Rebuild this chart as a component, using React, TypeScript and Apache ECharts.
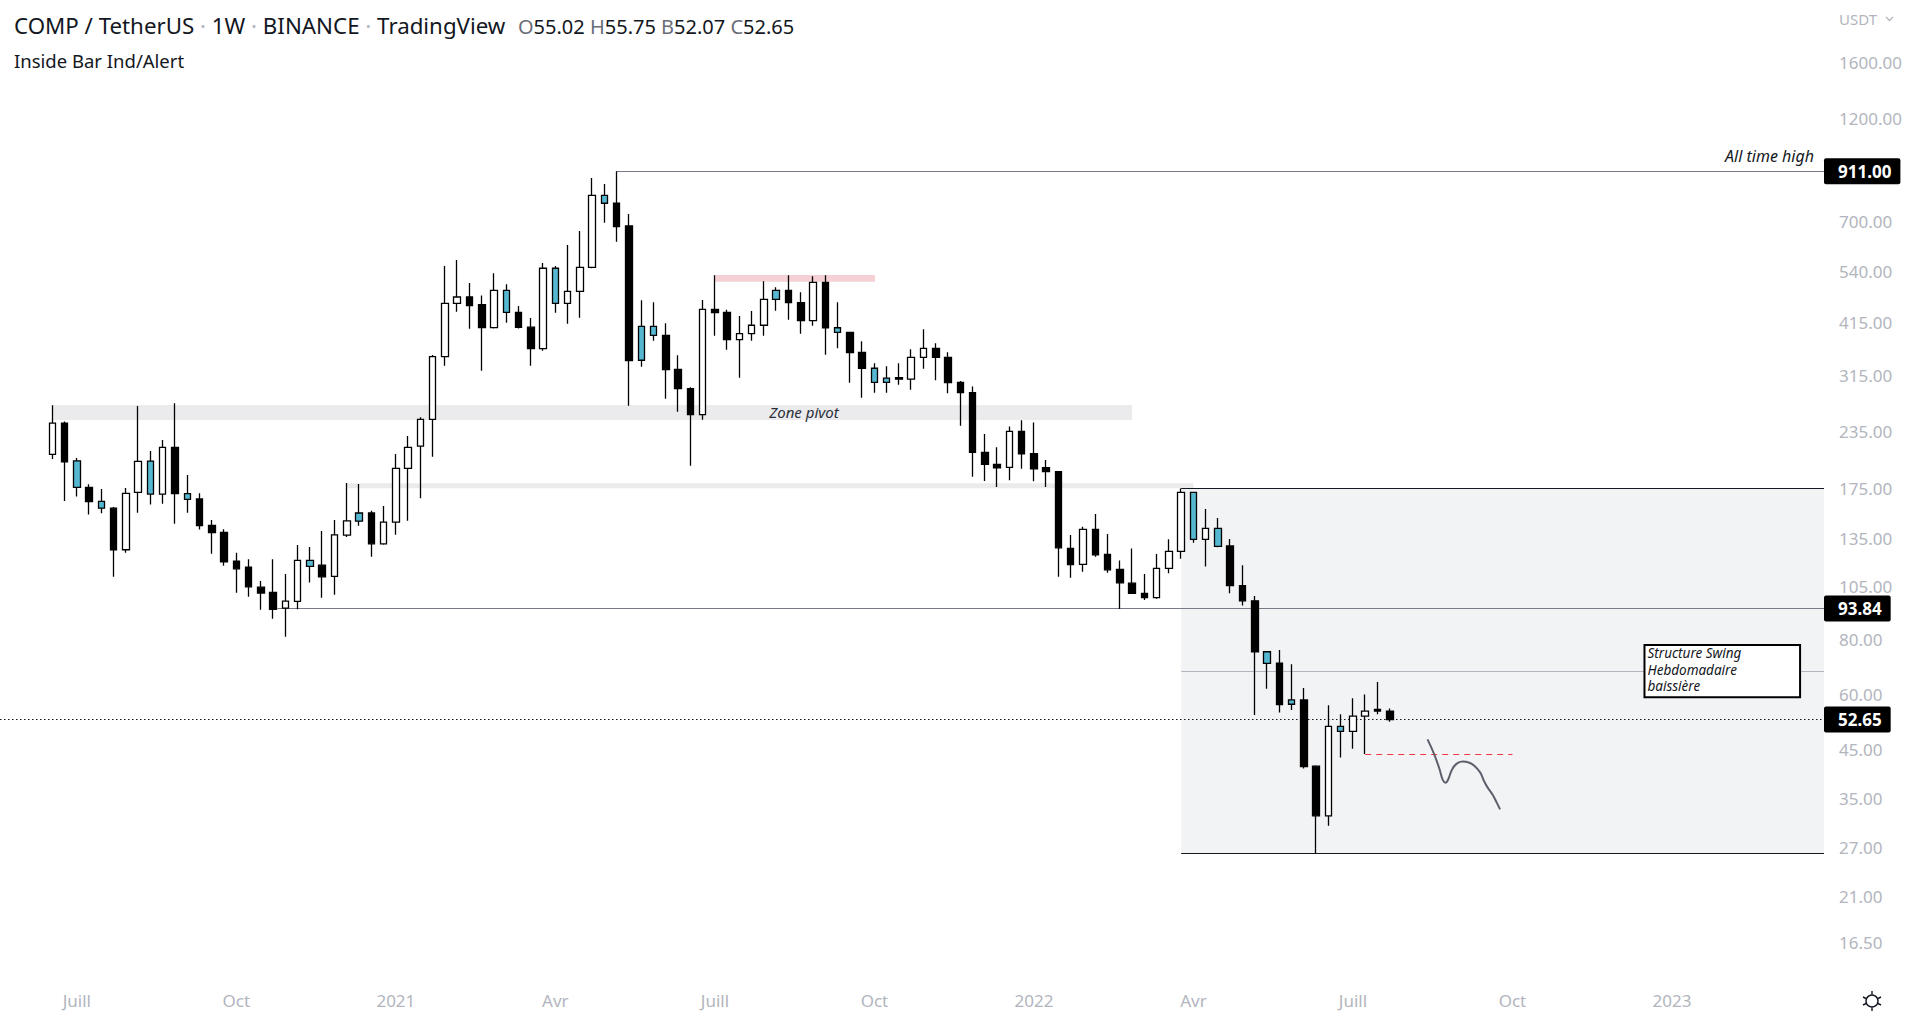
import React, { useEffect, useRef } from "react";
import * as echarts from "echarts";

// ---------- DATA ----------
// weekly candles, index 0 = week of 2020-06-22 (Binance COMP/USDT, 1W)
const opens = [
  209, 246, 202, 176, 163.7, 158, 127.3, 171.6, 201.9, 170,
  216.8, 170.4, 165.8, 144.5, 139.4, 120, 116.3, 104.8, 102, 94,
  97.3, 120.4, 117.5, 110.8, 137.3, 147.7, 154.1, 131.3, 146.9, 194.4,
  218.3, 250.8, 347.4, 458.6, 473.8, 455.6, 403.9, 490.6, 437.6, 405.1,
  362.1, 550.2, 458.6, 488.1, 553, 804.2, 771.5, 685.6, 341, 406.9,
  388.3, 325.3, 294.2, 256.9, 444.5, 437.6, 379.5, 391.6, 409.1, 468.1,
  490.6, 460, 419, 511.5, 403.8, 394.4, 355.4, 327.1, 304.1, 311.7,
  309.1, 346.3, 362.9, 346.3, 304.1, 288, 211.3, 198.5, 195.3, 235.6,
  209.7, 195, 191.1, 128.2, 118, 141.5, 124.3, 114.9, 107, 101.5,
  99.2, 115.5, 126.2, 171.6, 134.4, 142.2, 129.8, 105.6, 97.6, 74.9,
  70.6, 58.3, 58.3, 41.3, 31.9, 50.8, 49.5, 53.6, 55.5, 55.02,
];
const highs = [
  270, 248, 205, 179, 174.5, 159, 175.5, 268.8, 212.7, 225.2,
  272.6, 187.8, 170.7, 148.6, 141.7, 125.3, 121.2, 108.2, 121.2, 112.2,
  130.4, 129.1, 140.4, 148.6, 180.2, 179.2, 155.9, 159.8, 209.4, 229.9,
  253.4, 350.4, 556.7, 574.3, 509.6, 477.6, 536, 506.2, 452.2, 424.9,
  565.5, 556.7, 620.9, 667.7, 880, 852.9, 911, 730, 465.8, 461,
  413.3, 349.9, 296.2, 466.5, 530.4, 443.6, 429.2, 440.6, 514, 498.3,
  530.4, 485.5, 527.6, 530.4, 461, 395, 376.3, 335.7, 330.5, 335.7,
  361, 400.7, 372.4, 355.4, 306, 297.6, 232.3, 216.8, 241.7, 249.6,
  246.6, 202.9, 191.5, 137.5, 143.5, 153.3, 138.2, 120.4, 128.2, 112.2,
  124.5, 134.4, 175, 172, 157.4, 150.1, 134.6, 117.5, 100.1, 75.2,
  75.6, 70.2, 62, 41.5, 56.7, 54.1, 58.8, 60, 64, 55.75,
];
const lows = [
  204, 164, 168, 153, 154, 110.6, 125.3, 154.3, 161, 161.8,
  145.8, 154.3, 141.4, 124.7, 117.1, 101.8, 99.7, 93.2, 88.9, 81,
  93.4, 107.4, 99.2, 100.8, 136, 144.3, 122.8, 130.7, 137.7, 148.1,
  166.4, 206.5, 331.5, 439, 401.8, 323, 402, 414.6, 402, 331.5,
  358.4, 436.7, 412.5, 425.5, 550, 697.5, 631.7, 269.3, 329.8, 377.5,
  279.2, 261, 197, 250.3, 387.5, 360.3, 311.5, 377.5, 387.5, 441.2,
  421.2, 391.6, 408.2, 351, 362.9, 303.5, 280.6, 288.1, 288.1, 300.4,
  292.5, 326.4, 307.5, 287.2, 242.6, 186.1, 182.1, 176.3, 182.7, 194,
  181.7, 176.3, 110.6, 110.1, 113.6, 122.8, 113, 93.6, 101.1, 98,
  98.7, 112.7, 121.4, 132, 116.7, 129, 101.5, 95.3, 53.9, 61.8,
  54.6, 55.3, 40.8, 26.3, 30.3, 43.2, 45.2, 44, 54.1, 52.07,
];
const closes = [
  246, 201, 176, 163.5, 158, 127.3, 170.7, 201.6, 170, 216.8,
  170.4, 165.5, 144.3, 139.1, 119.6, 115.3, 105, 101.6, 93.4, 97.5,
  120.4, 116.7, 110.6, 137.5, 147.9, 154.1, 131.3, 146.9, 194.4, 216.8,
  250.8, 347.4, 458.6, 473.8, 453, 403.9, 490.6, 437.6, 404.5, 362.1,
  550.2, 458.6, 488.1, 553, 804.2, 771.5, 683.1, 340.3, 406.9, 388.3,
  324.7, 294.2, 256.9, 444.5, 436.7, 379.5, 391.6, 409.1, 468.1, 490.6,
  460, 419, 511.5, 403.8, 394.4, 354.7, 327.1, 304.1, 310.6, 309.1,
  346.3, 362.9, 346.3, 303.5, 288.1, 211.3, 198.5, 195, 235.6, 209.7,
  194, 191.1, 128.6, 117.8, 141.5, 124, 114.7, 107.2, 101.5, 99.2,
  115.5, 126.2, 171.6, 134.4, 142.2, 129.5, 105.6, 97.6, 74.9, 70.5,
  56.9, 57, 41.2, 31.9, 50.8, 49.5, 53.6, 55, 55, 52.65,
];
// candles flagged by the "Inside Bar Ind/Alert" indicator (blue)
const insideBars = [2, 4, 8, 11, 21, 25, 37, 41, 45, 48, 49, 59, 64, 67, 68, 93, 95, 99, 101, 105];

// axis ticks
const priceTicks = [1600, 1200, 700, 540, 415, 315, 235, 175, 135, 105, 80, 60, 45, 35, 27, 21, 16.5];
const timeTickWeeks = [2, 15, 28, 41, 54, 67, 80, 93, 106, 119, 132];
const timeTickLabels = ["Juill", "Oct", "2021", "Avr", "Juill", "Oct", "2022", "Avr", "Juill", "Oct", "2023"];

// drawings (in week index / price)
const athPrice = 911;
const athWeek = 46;
const supportPrice = 93.84;
const supportWeek = 18.34;
const lastPrice = 52.65;
const zonePivotWeeks = [0, 88];
const zonePivotPrices = [250.1, 270.2];
const zonePivotLabelAt = [61.26, 260];
const thinBandWeeks = [24, 93];
const thinBandPrices = [175.3, 180];
const pinkBandWeeks = [54, 67.05];
const pinkBandPrices = [513, 531];
const boxStartWeek = 92;
const boxPrices = [26.2, 175];
const midLinePrice = 67.7;
const noteWeeks = [129.76, 142.44];
const notePrices = [59.1, 77.6];
const noteText = "Structure Swing\nHebdomadaire\nbaissière";
const redDashWeeks = [107, 119];
const redDashPrice = 43.9;
const sketchWeeks = [112.08, 112.6, 113.04, 113.33, 113.56, 113.77, 114.06, 114.43, 114.93, 115.43, 115.89, 116.39, 116.67, 116.97, 117.41, 117.69, 117.99];
const sketchPrices = [47.5, 44.1, 40.8, 38.4, 37.9, 38.6, 40.5, 41.8, 42.3, 42.1, 41.4, 39.9, 38.3, 37.0, 35.5, 34.3, 33.0];

// view range
const X_MIN = -4.2624;
const X_MAX = 144.39;
const Y_MIN = 13.238;
const Y_MAX = 2220.2;

// ---------- STYLE ----------
const FONT = "'Noto Sans', 'Open Sans', sans-serif";
const AXIS_TEXT = "#b2b5be";
const INK = "#131722";
const BLUE = "#55b8d0";
const TRANSPARENT = "rgba(0,0,0,0)";

function buildOption() {
  const candles = opens.map((o, i) => {
    const item: any = { value: [i, o, closes[i], lows[i], highs[i]] };
    if (insideBars.includes(i)) {
      item.itemStyle = { color: BLUE, color0: BLUE, borderColor: "#000", borderColor0: "#000" };
    }
    return item;
  });

  const tickLabelLines = [
    ...priceTicks.map((v) => ({
      yAxis: v,
      lineStyle: { color: TRANSPARENT, width: 0 },
      label: {
        show: true,
        position: "end",
        distance: 15,
        formatter: v.toFixed(2),
        color: AXIS_TEXT,
        fontSize: 17,
        fontFamily: FONT,
      },
    })),
    ...timeTickWeeks.map((w, i) => ({
      xAxis: w,
      lineStyle: { color: TRANSPARENT, width: 0 },
      label: {
        show: true,
        position: "start",
        distance: 7,
        formatter: timeTickLabels[i],
        color: AXIS_TEXT,
        fontSize: 17,
        fontFamily: FONT,
      },
    })),
  ];

  const tag = (text: string) => ({
    show: true,
    position: "end",
    distance: 0,
    formatter: text,
    backgroundColor: "#000",
    color: "#fff",
    fontWeight: "bold",
    fontSize: 17,
    fontFamily: FONT,
    lineHeight: 20,
    padding: [3, 9, 3, 14],
    borderRadius: 2,
  });
  const noLabel = { show: false };

  const drawnLines = [
    [
      { coord: [supportWeek, supportPrice], lineStyle: { color: "#787b86", width: 1, type: "solid" }, label: tag(supportPrice.toFixed(2)) },
      { coord: [X_MAX, supportPrice] },
    ],
    [
      { coord: [boxStartWeek, boxPrices[1]], lineStyle: { color: INK, width: 1, type: "solid" }, label: noLabel },
      { coord: [X_MAX, boxPrices[1]] },
    ],
    [
      { coord: [boxStartWeek, boxPrices[0]], lineStyle: { color: INK, width: 1, type: "solid" }, label: noLabel },
      { coord: [X_MAX, boxPrices[0]] },
    ],
    [
      { coord: [boxStartWeek, midLinePrice], lineStyle: { color: "#b2b5be", width: 1, type: "solid" }, label: noLabel },
      { coord: [X_MAX, midLinePrice] },
    ],
    [
      { coord: [X_MIN, lastPrice], lineStyle: { color: INK, width: 1, type: [1.5, 2.5] }, label: tag(lastPrice.toFixed(2)) },
      { coord: [X_MAX, lastPrice] },
    ],
    [
      { coord: [athWeek, athPrice], lineStyle: { color: "#787b86", width: 1, type: "solid" }, label: tag(athPrice.toFixed(2)) },
      { coord: [X_MAX, athPrice] },
    ],
    [
      {
        coord: [athWeek, athPrice],
        lineStyle: { color: TRANSPARENT, width: 0 },
        label: {
          show: true,
          position: "insideEndTop",
          distance: [10, 7],
          formatter: "All time high",
          color: INK,
          fontStyle: "italic",
          fontSize: 16,
          fontFamily: FONT,
        },
      },
      { coord: [X_MAX, athPrice] },
    ],
    [
      { coord: [redDashWeeks[0], redDashPrice], lineStyle: { color: "#f23645", width: 1, type: [6, 5] }, label: noLabel },
      { coord: [redDashWeeks[1], redDashPrice] },
    ],
  ];

  return {
    animation: false,
    backgroundColor: "#ffffff",
    grid: { left: 0, right: 96, top: 0, bottom: 30, containLabel: false },
    xAxis: {
      type: "value",
      min: X_MIN,
      max: X_MAX,
      axisLine: { show: false },
      axisTick: { show: false },
      axisLabel: { show: false },
      splitLine: { show: false },
    },
    yAxis: {
      type: "log",
      logBase: 10,
      position: "right",
      min: Y_MIN,
      max: Y_MAX,
      axisLine: { show: false },
      axisTick: { show: false },
      axisLabel: { show: false },
      splitLine: { show: false },
    },
    graphic: [
      {
        type: "text",
        x: 14,
        y: 25,
        style: {
          text: "{t|COMP / TetherUS}{d| · }{t|1W}{d| · }{t|BINANCE}{d| · }{t|TradingView}",
          verticalAlign: "middle",
          rich: {
            t: { fontSize: 22.3, fontFamily: FONT, fill: INK },
            d: { fontSize: 22.3, fontFamily: FONT, fill: "#b2b5be" },
          },
        },
      },
      {
        type: "text",
        x: 518,
        y: 26,
        style: {
          text:
            "{k|O}{v|" + opens[opens.length - 1].toFixed(2) + "} " +
            "{k|H}{v|" + highs[highs.length - 1].toFixed(2) + "} " +
            "{k|B}{v|" + lows[lows.length - 1].toFixed(2) + "} " +
            "{k|C}{v|" + closes[closes.length - 1].toFixed(2) + "}",
          verticalAlign: "middle",
          font: "20px " + FONT,
          rich: {
            k: { fontSize: 20, fontFamily: FONT, fill: "#6a6d78" },
            v: { fontSize: 20, fontFamily: FONT, fill: INK },
          },
        },
      },
      {
        type: "text",
        x: 14,
        y: 60,
        style: { text: "Inside Bar Ind/Alert", fontSize: 18.5, fontFamily: FONT, fill: INK, verticalAlign: "middle" },
      },
      {
        type: "text",
        x: 1839,
        y: 19,
        style: { text: "USDT", fontSize: 15, fontFamily: FONT, fill: AXIS_TEXT, verticalAlign: "middle" },
      },
      {
        type: "polyline",
        shape: { points: [[1886, 17], [1889.5, 20.5], [1893, 17]] },
        style: { stroke: AXIS_TEXT, lineWidth: 1.3, fill: null },
      },
      {
        type: "group",
        x: 1872,
        y: 1001,
        children: [
          { type: "circle", shape: { cx: 0, cy: 0, r: 6 }, style: { stroke: INK, lineWidth: 1.4, fill: "#fff" } },
          { type: "line", shape: { x1: 0, y1: -10, x2: 0, y2: -6.5 }, style: { stroke: INK, lineWidth: 1.4 } },
          { type: "line", shape: { x1: 0, y1: 6.5, x2: 0, y2: 10 }, style: { stroke: INK, lineWidth: 1.4 } },
          { type: "line", shape: { x1: -9, y1: -4, x2: -6, y2: -2.5 }, style: { stroke: INK, lineWidth: 1.4 } },
          { type: "line", shape: { x1: 9, y1: -4, x2: 6, y2: -2.5 }, style: { stroke: INK, lineWidth: 1.4 } },
          { type: "line", shape: { x1: -9, y1: 4, x2: -6, y2: 2.5 }, style: { stroke: INK, lineWidth: 1.4 } },
          { type: "line", shape: { x1: 9, y1: 4, x2: 6, y2: 2.5 }, style: { stroke: INK, lineWidth: 1.4 } },
        ],
      },
    ],
    series: [
      {
        name: "zones",
        type: "line",
        data: [],
        z: 1,
        silent: true,
        clip: false,
        markArea: {
          silent: true,
          z: 1,
          label: { show: false },
          data: [
            [
              { coord: [zonePivotWeeks[0], zonePivotPrices[1]], itemStyle: { color: "#ebebed" } },
              { coord: [zonePivotWeeks[1], zonePivotPrices[0]] },
            ],
            [
              { coord: [thinBandWeeks[0], thinBandPrices[1]], itemStyle: { color: "#ebebed" } },
              { coord: [thinBandWeeks[1], thinBandPrices[0]] },
            ],
            [
              { coord: [pinkBandWeeks[0], pinkBandPrices[1]], itemStyle: { color: "#f5d0d4" } },
              { coord: [pinkBandWeeks[1], pinkBandPrices[0]] },
            ],
            [
              { coord: [boxStartWeek, boxPrices[1]], itemStyle: { color: "#f2f3f5" } },
              { coord: [X_MAX, boxPrices[0]] },
            ],
          ],
        },
        markLine: {
          silent: true,
          z: 1,
          symbol: "none",
          data: tickLabelLines,
        },
      },
      {
        name: "lines",
        type: "line",
        data: [],
        z: 2,
        silent: true,
        clip: false,
        markLine: {
          silent: true,
          z: 2,
          symbol: "none",
          data: drawnLines,
        },
      },
      {
        name: "COMP/USDT",
        type: "candlestick",
        z: 3,
        barWidth: 7,
        silent: true,
        itemStyle: {
          color: "#ffffff",
          color0: "#000000",
          borderColor: "#000000",
          borderColor0: "#000000",
          borderWidth: 1.3,
        },
        data: candles,
      },
      {
        name: "sketch",
        type: "line",
        z: 4,
        silent: true,
        clip: false,
        smooth: 0.4,
        symbol: "none",
        lineStyle: { color: "#5d606b", width: 2 },
        data: sketchWeeks.map((w, i) => [w, sketchPrices[i]]),
        markArea: {
          silent: true,
          z: 6,
          data: [
            [
              {
                coord: [noteWeeks[0], notePrices[1]],
                itemStyle: { color: "#ffffff", borderColor: "#000000", borderWidth: 2 },
                label: {
                  show: true,
                  position: "insideTopLeft",
                  distance: 1,
                  padding: [0, 0, 0, 3],
                  formatter: noteText,
                  color: INK,
                  fontStyle: "italic",
                  fontSize: 13.5,
                  lineHeight: 16.5,
                  fontFamily: FONT,
                },
              },
              { coord: [noteWeeks[1], notePrices[0]] },
            ],
          ],
        },
        markPoint: {
          silent: true,
          z: 5,
          symbol: "rect",
          symbolSize: 1,
          itemStyle: { color: TRANSPARENT },
          label: {
            show: true,
            position: "inside",
            formatter: "Zone pivot",
            color: "#2a2e39",
            fontStyle: "italic",
            fontSize: 15,
            fontFamily: FONT,
          },
          data: [{ coord: zonePivotLabelAt }],
        },
      },
    ],
  };
}

export default function App() {
  const ref = useRef<HTMLDivElement>(null);
  useEffect(() => {
    if (!ref.current) return;
    const chart = echarts.init(ref.current, null, { renderer: "svg" });
    chart.setOption(buildOption() as any);
    return () => chart.dispose();
  }, []);
  return (
    <div
      ref={ref}
      style={{ position: "fixed", left: 0, top: 0, width: 1920, height: 1015, background: "#fff" }}
    />
  );
}
